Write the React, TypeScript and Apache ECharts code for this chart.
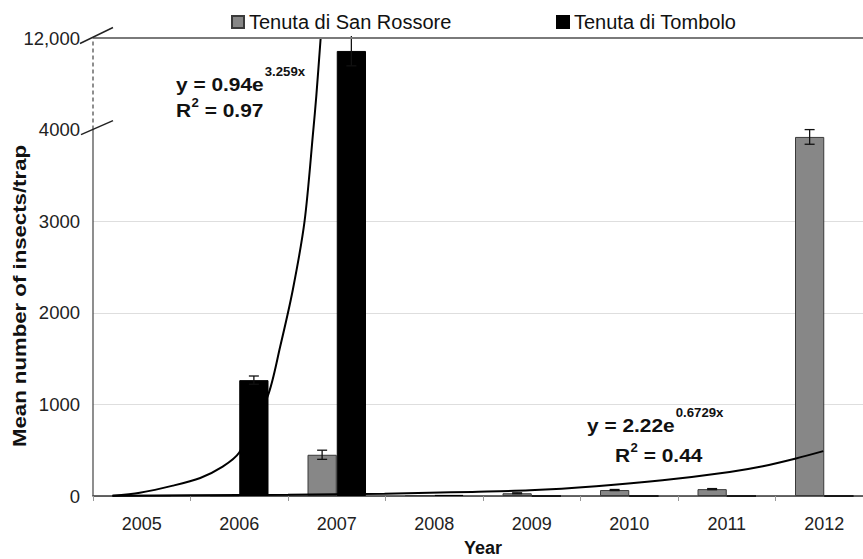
import React, { useEffect, useRef } from 'react';
import * as echarts from 'echarts';

const years = ['2005', '2006', '2007', '2008', '2009', '2010', '2011', '2012'];
const sanRossore = [2, 3, 450, 10, 30, 65, 75, 3920];
const sanRossoreErr = [0, 0, 50, 0, 5, 6, 6, 80];
const tombolo = [8, 1265, 10870, 12, 0, 0, 0, 0];
const tomboloErr = [0, 45, 1300, 0, 0, 0, 0, 0];
const yTickLabels: Record<number, string> = { 0: '0', 1000: '1000', 2000: '2000', 3000: '3000', 4000: '4000', 12000: '12,000' };

// trend curves: [year position, value]
const tomboloTrend: [number, number][] = [
  [2004.7, 2], [2004.98, 36], [2005.32, 113], [2005.6, 197], [2005.83, 320], [2006.0, 474],
  [2006.29, 1086], [2006.42, 1633], [2006.55, 2255], [2006.67, 3000], [2006.76, 4000],
  [2006.79, 6900], [2006.835, 12000],
];
const sanRossoreTrend: [number, number][] = [
  [2004.7, 3], [2005.5, 8], [2006.5, 14], [2007.49, 25], [2007.95, 35], [2008.39, 45],
  [2008.98, 62], [2009.66, 107], [2010.34, 172], [2011.03, 263], [2011.37, 325],
  [2011.71, 410], [2011.99, 490],
];

const FONT = 'Liberation Sans, Arial, sans-serif';
const NAME_SR = 'Tenuta di San Rossore';
const NAME_TO = 'Tenuta di Tombolo';
const Y_MAX = 12000;

export default function App() {
  const ref = useRef<HTMLDivElement>(null);
  useEffect(() => {
    document.body.style.margin = '0';
    const chart = echarts.init(ref.current!, null, { renderer: 'svg' });

    const errData: any[] = [];
    years.forEach((_, i) => {
      if (sanRossoreErr[i] > 0) errData.push([i, sanRossore[i], sanRossoreErr[i], -1]);
      if (tomboloErr[i] > 0) errData.push([i, tombolo[i], tomboloErr[i], 1]);
    });

    chart.setOption({
      animation: false,
      textStyle: { fontFamily: FONT },
      legend: [
        {
          data: [NAME_SR], left: 226, top: 7, itemWidth: 12, itemHeight: 12, icon: 'rect',
          textStyle: { fontSize: 20, color: '#111', fontFamily: FONT },
        },
        {
          data: [NAME_TO], left: 551, top: 7, itemWidth: 12, itemHeight: 12, icon: 'rect',
          textStyle: { fontSize: 20, color: '#111', fontFamily: FONT },
        },
      ],
      grid: { left: 93, top: 38, width: 780, height: 458, containLabel: false, outerBoundsMode: 'none' },
      xAxis: [
        {
          type: 'category', data: years,
          axisLine: { show: true, lineStyle: { color: '#333', width: 1.5 } },
          axisTick: { show: true, length: 5, lineStyle: { color: '#999' } },
          axisLabel: { fontSize: 18, color: '#222', margin: 19, fontFamily: FONT },
          name: 'Year', nameLocation: 'middle', nameGap: 43,
          nameTextStyle: { fontSize: 18, fontWeight: 'bold', color: '#111', fontFamily: FONT },
        },
        { type: 'value', min: 2004.5, max: 2012.5, show: false },
      ],
      yAxis: {
        type: 'value', min: 0, max: Y_MAX, interval: 1000,
        breaks: [{ start: 4000, end: 12000, gap: 1000 }],
        breakArea: { show: false },
        axisLine: { show: false },
        axisTick: { show: false },
        axisLabel: {
          fontSize: 18.5, color: '#222', margin: 13, fontFamily: FONT,
          formatter: (v: number) => yTickLabels[v] ?? '',
        },
        splitLine: { show: true, lineStyle: { color: '#dedede', width: 1 } },
      },
      series: [
        {
          name: NAME_SR, type: 'bar', data: sanRossore, barGap: '0%', barCategoryGap: '40%',
          itemStyle: { color: '#878787', borderColor: '#3a3a3a', borderWidth: 1 },
        },
        {
          name: NAME_TO, type: 'bar', data: tombolo,
          itemStyle: { color: '#000', borderColor: '#000', borderWidth: 1 },
        },
        {
          name: 'trendTO', type: 'line', xAxisIndex: 1, data: tomboloTrend, smooth: 0.3,
          symbol: 'none', lineStyle: { color: '#000', width: 2 }, z: 5, clip: false,
        },
        {
          name: 'trendSR', type: 'line', xAxisIndex: 1, data: sanRossoreTrend, smooth: 0.3,
          symbol: 'none', lineStyle: { color: '#000', width: 2 }, z: 5,
        },
        {
          name: 'err', type: 'custom', data: errData, z: 6,
          renderItem: (params: any, api: any) => {
            const idx = api.value(0), val = api.value(1), err = api.value(2), side = api.value(3);
            const band = api.size([1, 0])[0];
            const c = api.coord([idx, val]);
            const x = c[0] + side * band * 0.15;
            const topVal = Math.min(val + err, Y_MAX);
            const yt = api.coord([idx, topVal])[1];
            const yb = api.coord([idx, val - err])[1];
            const st = { stroke: '#111', lineWidth: 1.3 };
            const children: any[] = [
              { type: 'line', shape: { x1: x, y1: yt - (topVal >= Y_MAX ? 2 : 0), x2: x, y2: yb }, style: st },
              { type: 'line', shape: { x1: x - 5, y1: yb, x2: x + 5, y2: yb }, style: st },
            ];
            if (topVal < Y_MAX) children.push({ type: 'line', shape: { x1: x - 5, y1: yt, x2: x + 5, y2: yt }, style: st });
            return { type: 'group', children };
          },
        },
      ],
    });

    const y0 = chart.convertToPixel({ yAxisIndex: 0 }, 0) as number;
    const y4 = chart.convertToPixel({ yAxisIndex: 0 }, 4000) as number;
    const y12 = chart.convertToPixel({ yAxisIndex: 0 }, 12000) as number;
    const xL = chart.convertToPixel({ xAxisIndex: 1 }, 2004.5) as number;
    const xR = chart.convertToPixel({ xAxisIndex: 1 }, 2012.5) as number;

    const ctx = document.createElement('canvas').getContext('2d')!;
    const measure = (t: string, size: number) => {
      ctx.font = `bold ${size}px ${FONT}`;
      return ctx.measureText(t).width;
    };
    const MAIN = 19, SUP = 12, SX = 1.1;
    const bold = (text: string, x: number, y: number, size: number) => ({
      type: 'text', x, y, z: 20, scaleX: SX,
      style: { text, fontSize: size, fontWeight: 'bold', fill: '#111', fontFamily: FONT, verticalAlign: 'middle', align: 'left' },
    });
    const equation = (base: string, sup: string, r2: string, x1: number, y1: number, x2: number, y2: number) => {
      const wBase = measure(base, MAIN) * SX;
      const wR = measure('R', MAIN) * SX;
      const w2 = measure('2', SUP) * SX;
      return [
        bold(base, x1, y1, MAIN),
        bold(sup, x1 + wBase + 1, y1 - 12, SUP),
        bold('R', x2, y2, MAIN),
        bold('2', x2 + wR + 0.5, y2 - 7, SUP),
        bold(' = ' + r2, x2 + wR + w2 + 0.5, y2, MAIN),
      ];
    };

    chart.setOption({
      graphic: [
        { type: 'line', z: 10, shape: { x1: xL, y1: y0, x2: xL, y2: y4 }, style: { stroke: '#444', lineWidth: 1.2 } },
        { type: 'line', z: 10, shape: { x1: xL, y1: y4, x2: xL, y2: y12 }, style: { stroke: '#444', lineWidth: 1.2, lineDash: [4, 3] } },
        { type: 'line', z: 10, shape: { x1: xL, y1: y12, x2: xR, y2: y12 }, style: { stroke: '#7a7a7a', lineWidth: 2 } },
        { type: 'line', z: 11, shape: { x1: xL - 12, y1: y4 + 5, x2: xL + 20, y2: y4 - 9 }, style: { stroke: '#222', lineWidth: 1.5 } },
        { type: 'line', z: 11, shape: { x1: xL - 13, y1: y12 + 5.5, x2: xL + 20, y2: y12 - 10.5 }, style: { stroke: '#222', lineWidth: 1.5 } },
        {
          type: 'text', x: 20, y: 296, rotation: Math.PI / 2, scaleX: 1.2, z: 20,
          style: { text: 'Mean number of insects/trap', fontSize: 18.5, fontWeight: 'bold', fill: '#111', fontFamily: FONT, align: 'center', verticalAlign: 'middle' },
        },
        ...equation('y = 0.94e', '3.259x', '0.97', 176, 84, 176, 110),
        ...equation('y = 2.22e', '0.6729x', '0.44', 587, 425, 615, 455),
      ],
    });

    return () => chart.dispose();
  }, []);
  return <div ref={ref} style={{ width: 863, height: 559 }} />;
}
